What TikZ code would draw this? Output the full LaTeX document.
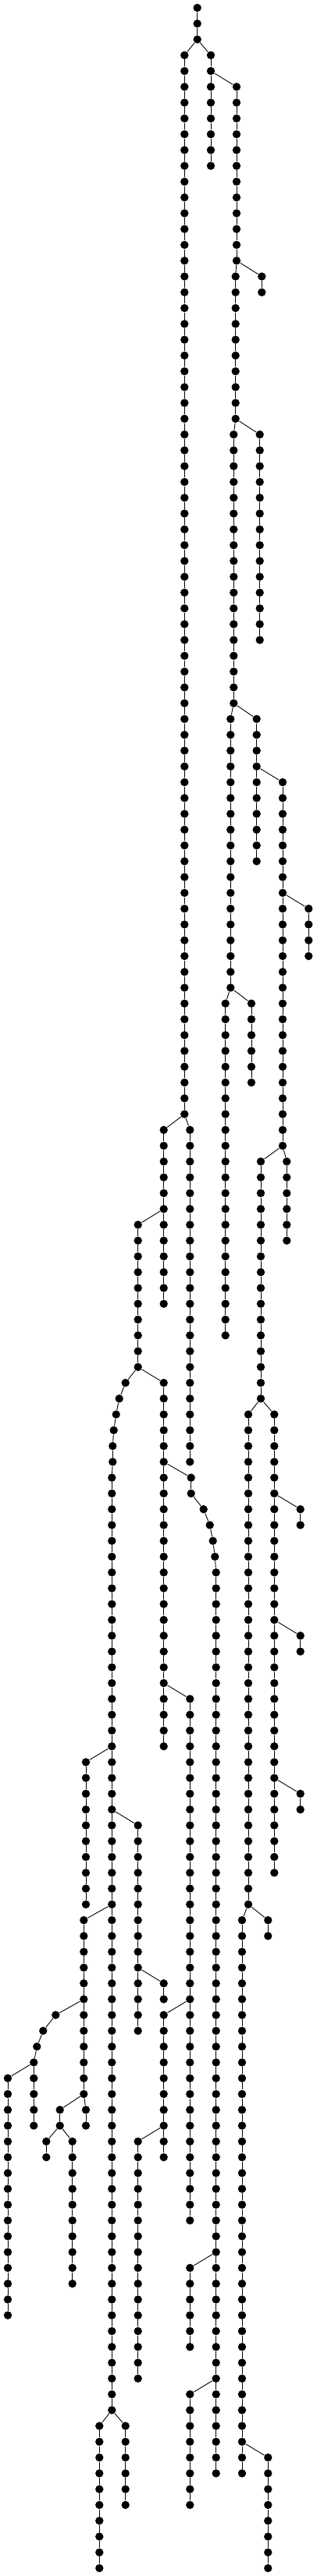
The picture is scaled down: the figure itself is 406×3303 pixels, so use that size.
\documentclass[tikz,border=0pt]{standalone}

\newcommand{\chain}[4]{%
  \foreach \r [remember=\r as \q (initially #3)] in {#3,...,#4} {
    \node[dot] (#1\r) at (#2, {10+20.265*\r}) {};
    \ifnum\r>#3 \draw (#1\q) -- (#1\r);\fi
  }}
\newcommand{\bentchain}[3]{%
  \foreach \r/\x [remember=\r as \q (initially #2)] in {#3} {
    \node[dot] (#1\r) at (\x, {10+20.265*\r}) {};
    \ifnum\r>#2 \draw (#1\q) -- (#1\r);\fi
  }}

\begin{document}
\begin{tikzpicture}[x=1pt, y=-1pt, line width=0.9pt,
    dot/.style={circle, fill=black, inner sep=0pt, minimum size=10.4pt}]
  \useasboundingbox (0,0) rectangle (406,3303);

  \chain{R}{252.7}{0}{2}
  \chain{A}{236.3}{3}{70}
  \chain{B}{270}{3}{10}
  \chain{C}{303}{5}{16}
  \chain{C}{301.7}{17}{26}
  \chain{C}{299.3}{27}{44}
  \chain{Cl}{335.3}{17}{18}
  \chain{D}{332.7}{27}{40}
  \chain{E}{295.3}{45}{62}
  \chain{F}{328.7}{45}{54}
  \chain{G}{362}{49}{72}
  \chain{Gl}{395.3}{57}{60}
  \chain{H}{334}{73}{88}
  \chain{I}{367.3}{73}{78}
  \chain{J}{318}{89}{120}
  \chain{K}{351.3}{89}{118}
  \chain{Ka}{384.7}{95}{96}
  \chain{Kb}{384.7}{103}{104}
  \chain{Kc}{384.7}{113}{114}
  \chain{L}{310}{121}{156}
  \chain{M}{343.3}{121}{122}
  \chain{Ll}{343.3}{155}{162}
  \chain{N}{288.7}{63}{84}
  \chain{O}{322}{63}{68}
  \chain{P}{209.7}{71}{82}
  \chain{Q}{243.3}{71}{92}
  \chain{S}{176.7}{77}{86}
  \bentchain{T}{87}{87/160.7, 88/152.7, 89/148.7, 90/145.7, 91/144.3, 92/144.3}
  \chain{T}{143.3}{93}{152}
  \chain{U}{209.7}{87}{110}
  \bentchain{V}{93}{93/244.7, 94/244.7, 95/260.7, 96/268.7, 97/272.7, 98/275.3}
  \chain{V}{276.7}{99}{156}
  \chain{W}{243.3}{107}{140}
  \chain{Va}{243.3}{143}{148}
  \chain{Vb}{243.3}{151}{158}
  \chain{X}{209.7}{127}{136}
  \chain{Xl}{176.7}{135}{150}
  \chain{Ta}{110}{111}{120}
  \chain{Y}{176.7}{115}{128}
  \chain{Yl}{209.7}{125}{126}
  \chain{Z}{107.3}{121}{132}
  \chain{Tb}{127.3}{153}{162}
  \chain{Tc}{160.7}{153}{158}
  \bentchain{AA}{127}{127/71.3, 128/55.3, 129/47.3}
  \chain{AA}{43.3}{130}{134}
  \chain{AAl}{10}{131}{146}
  \chain{Za}{76.7}{133}{134}
  \chain{Zb}{110}{133}{134}
  \chain{Zc}{59.3}{135}{136}
  \chain{Zd}{92.7}{135}{144}

  \foreach \a/\b in {R2/A3, R2/B3, B4/C5, C16/C17, C16/Cl17, C26/C27, C26/D27,
      C44/E45, C44/F45, F48/G49, G56/Gl57, G72/H73, G72/I73, H88/J89, H88/K89,
      K94/Ka95, K102/Kb103, K112/Kc113, J120/L121, J120/M121, L154/Ll155,
      E62/N63, E62/O63, A70/P71, A70/Q71, P76/S77, S86/T87, S86/U87, T92/T93,
      U92/V93, V98/V99, U106/W107, V142/Va143, V150/Vb151, W126/X127,
      X134/Xl135, T110/Ta111, T114/Y115, Y124/Yl125, T120/Z121, T152/Tb153,
      T152/Tc153, Z126/AA127, AA129/AA130, AA130/AAl131, Z132/Za133,
      Z132/Zb133, Za134/Zc135, Za134/Zd135}
    \draw (\a) -- (\b);
\end{tikzpicture}
\end{document}
